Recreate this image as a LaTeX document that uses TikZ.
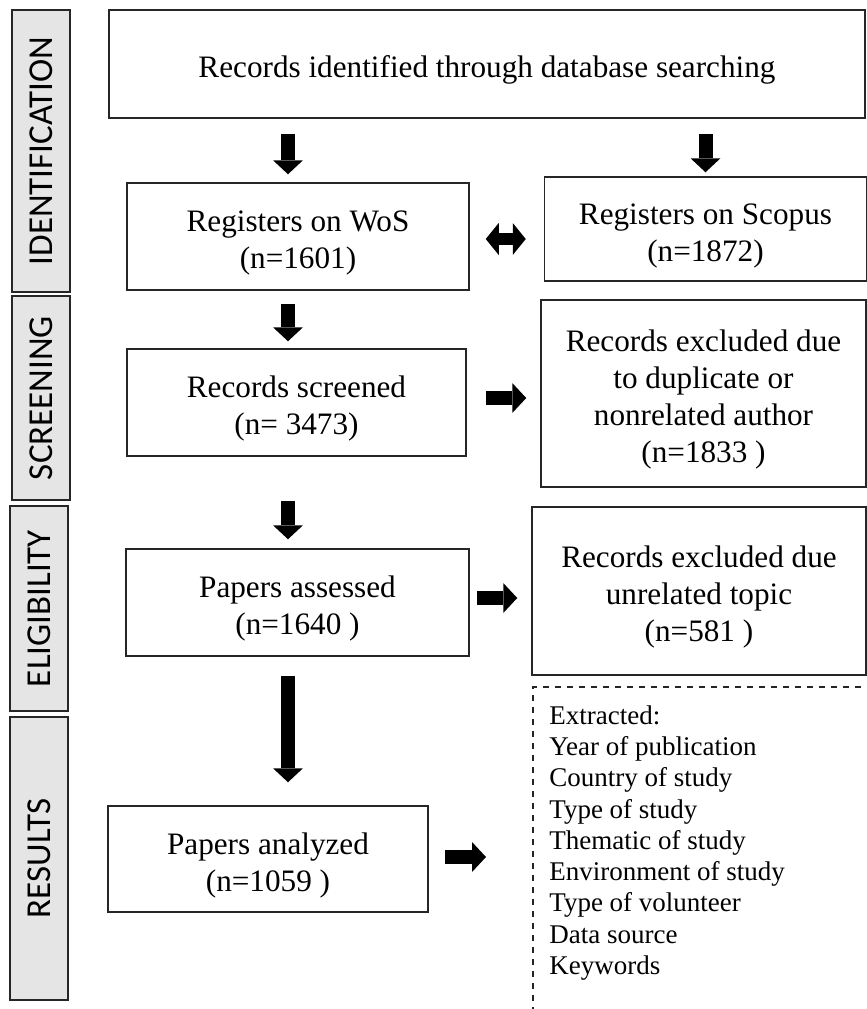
\documentclass[tikz,border=0pt]{standalone}
\usepackage{fontspec}
\setmainfont{Liberation Serif}
\newfontfamily\sidefont{Carlito}
\usetikzlibrary{arrows.meta,calc}

\begin{document}
\begin{tikzpicture}[
        x=0.5pt, y=-0.5pt,
        stage/.style={rectangle, draw=black!85, fill=black!10, line width=0.8pt, rotate=90,
            minimum height=29pt, inner sep=0pt, font=\sidefont\fontsize{17.5}{20}\selectfont},
        box/.style={rectangle, draw=black!85, line width=0.75pt, align=flush center, inner sep=0pt,
            text width=158pt, execute at begin node={\rule{0pt}{17pt}},
            font=\fontsize{15.6}{18.5}\selectfont},
        flow/.style={line width=7pt, -{Triangle[width=15pt, length=7pt, line width=0pt]}},
        swap/.style={line width=6pt, {Triangle[width=16pt, length=6.5pt, line width=0pt]}-{Triangle[width=16pt, length=6.5pt, line width=0pt]}}
    ]
    \useasboundingbox (0,0) rectangle (867,1009);

    % Stages on the left
    \node[stage, minimum width=141pt] (ident) at (41,151) {IDENTIFICATION};
    \node[stage, minimum width=102pt] (screen) at (41,398) {SCREENING};
    \node[stage, minimum width=102.5pt] (elig) at (39,608.5) {ELIGIBILITY};
    \node[stage, minimum width=141.5pt] (res) at (39,858.5) {RESULTS};

    % Flow boxes
    \node[box, text width=370pt, minimum width=378pt, minimum height=54pt] (search) at (487,64) {Records identified through database searching};
    \node[box, minimum width=171pt, minimum height=53.5pt] (wos) at (298,236.5) {Registers on WoS\\(n=1601)};
    \node[box, minimum width=161pt, minimum height=52pt] (scopus) at (705.5,229) {Registers on Scopus\\(n=1872)};
    \node[box, minimum width=169.5pt, minimum height=53.5pt] (screened) at (296.5,402.5) {Records screened\\(n= 3473)};
    \node[box, minimum width=162.5pt, minimum height=93.5pt] (dupl) at (703.5,393.5) {Records excluded due\\to duplicate or\\nonrelated author\\(n=1833 )};
    \node[box, minimum width=171.5pt, minimum height=53.5pt] (assessed) at (297.5,602.5) {Papers assessed\\(n=1640 )};
    \node[box, minimum width=167pt, minimum height=84pt] (topic) at (699,591) {Records excluded due\\unrelated topic\\(n=581 )};
    \node[box, minimum width=160pt, minimum height=53pt] (analyzed) at (268,859) {Papers analyzed\\(n=1059 )};
    \node[draw=black!85, line width=0.75pt, dashed, anchor=north west, minimum width=180pt, minimum height=170pt] (extract) at (532,686) {};
    \node[anchor=north west, align=left, inner sep=0pt, font=\fontsize{13.5}{15.65}\selectfont]
        (items) at ([xshift=8.5pt, yshift=-9.5pt]extract.north west)
        {Extracted:\\Year of publication\\Country of study\\Type of study\\Thematic of study\\Environment of study\\Type of volunteer\\Data source\\Keywords};

    \coordinate (spine) at (288,0);

    % Arrows
    \draw[flow, shorten <=7.5pt, shorten >=4pt] (search.south -| spine) -- (wos.north -| spine);
    \draw[flow, shorten <=7.5pt, shorten >=2pt] (search.south -| scopus.north) -- (scopus.north);
    \draw[swap, shorten <=8pt, shorten >=9pt] ([yshift=-1.25pt]wos.east) -- ([yshift=-1.25pt]wos.east -| scopus.west);
    \draw[flow, shorten <=6.5pt, shorten >=3.5pt] (wos.south -| spine) -- (screened.north -| spine);
    \draw[flow, shorten <=9.5pt, shorten >=7pt] ([yshift=2.25pt]screened.east) -- ([yshift=2.25pt]screened.east -| dupl.west);
    \draw[flow, shorten <=22pt, shorten >=4.5pt] (screened.south -| spine) -- (assessed.north -| spine);
    \draw[flow, shorten <=3.5pt, shorten >=7pt] ([yshift=2.25pt]assessed.east) -- ([yshift=2.25pt]assessed.east -| topic.west);
    \draw[flow, shorten <=9.5pt, shorten >=11.5pt] (assessed.south -| spine) -- (analyzed.north -| spine);
    \draw[flow, shorten <=8pt, shorten >=23pt] ([yshift=1pt]analyzed.east) -- ([yshift=1pt]analyzed.east -| extract.west);
\end{tikzpicture}
\end{document}
